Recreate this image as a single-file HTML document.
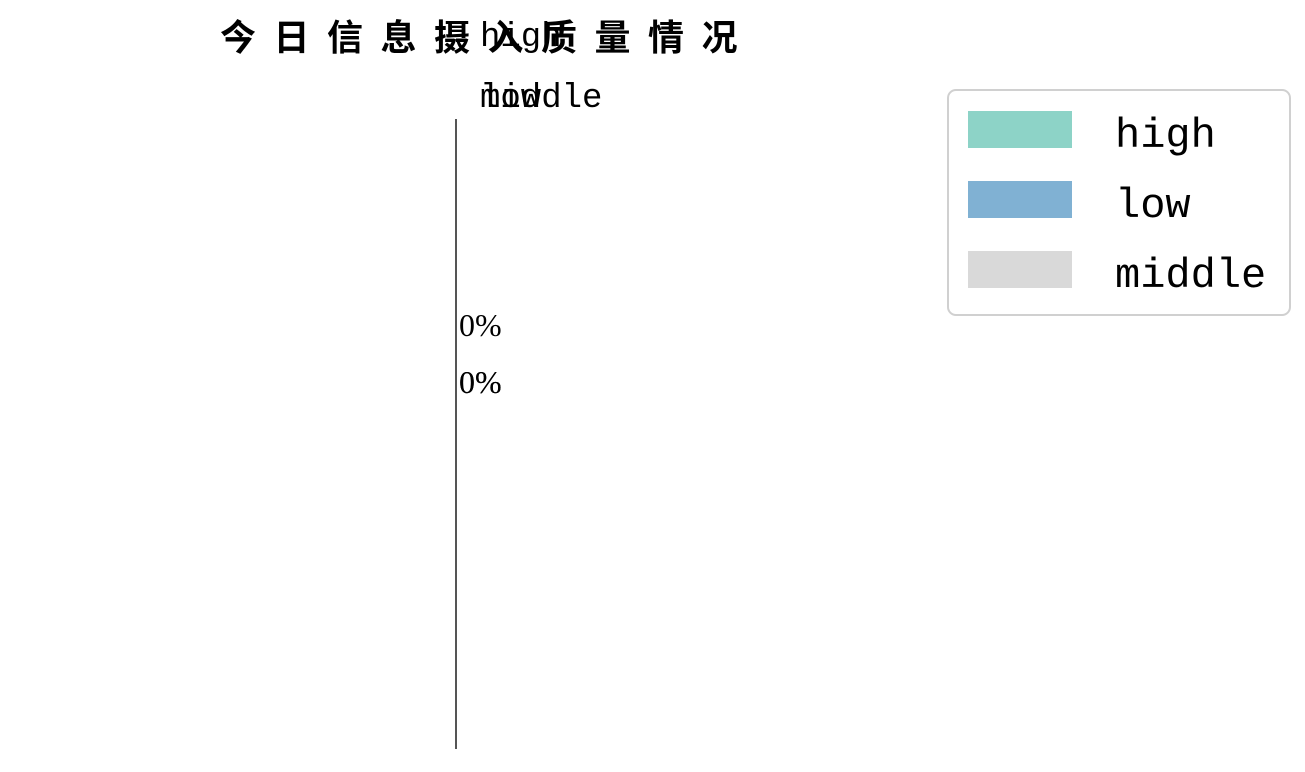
<!DOCTYPE html>
<html><head><meta charset="utf-8"><style>
html,body{margin:0;padding:0;background:#fff;}
svg{display:block;}
</style></head><body>
<svg id="chart" width="1305" height="772" viewBox="0 0 1305 772" xmlns="http://www.w3.org/2000/svg">
<text x="220" y="50" font-family="'Liberation Sans','Noto Sans CJK SC',sans-serif" font-weight="bold" font-size="36" letter-spacing="17.5">今日信息摄入质量情况</text>
<g id="slices"></g>
<g id="labels"></g>
<g>
<rect x="948" y="90" width="342" height="225" rx="8" fill="#fff" stroke="#d0d0d0" stroke-width="2"/>
<g id="legend-entries"></g>
</g>
</svg>
<script>
const categories = ["high", "low", "middle"];
const values = [0, 0, 0];
const colors = ["#8dd3c7", "#80b1d3", "#d9d9d9"];
const pctLabels = ["0%", "0%", "0%"];

const NS = "http://www.w3.org/2000/svg";
const cx = 456, cy = 434, r = 315;
const slices = document.getElementById("slices");
const labels = document.getElementById("labels");
const total = values.reduce((a, b) => a + b, 0);
let start = 0;
function pt(a, rad) { return [cx + rad * Math.sin(a), cy - rad * Math.cos(a)]; }
values.forEach((v, i) => {
  const frac = total > 0 ? v / total : 0;
  const a0 = start * 2 * Math.PI, a1 = (start + frac) * 2 * Math.PI;
  let el;
  if (frac <= 0) {
    el = document.createElementNS(NS, "line");
    const p = pt(a0, r);
    el.setAttribute("x1", cx); el.setAttribute("y1", cy);
    el.setAttribute("x2", p[0]); el.setAttribute("y2", p[1]);
    el.setAttribute("stroke", "#555"); el.setAttribute("stroke-width", "2");
  } else if (frac >= 1) {
    el = document.createElementNS(NS, "circle");
    el.setAttribute("cx", cx); el.setAttribute("cy", cy); el.setAttribute("r", r);
    el.setAttribute("fill", colors[i]);
  } else {
    el = document.createElementNS(NS, "path");
    const p0 = pt(a0, r), p1 = pt(a1, r);
    el.setAttribute("d", `M${cx},${cy}L${p0[0]},${p0[1]}A${r},${r} 0 ${frac > 0.5 ? 1 : 0} 1 ${p1[0]},${p1[1]}Z`);
    el.setAttribute("fill", colors[i]);
    el.setAttribute("stroke", "#555");
  }
  
  
  slices.appendChild(el);
  start += frac;
});
if (total === 0) {
  const ln = document.createElementNS(NS, "line");
  ln.setAttribute("x1", cx); ln.setAttribute("y1", cy - r);
  ln.setAttribute("x2", cx); ln.setAttribute("y2", cy + r);
  ln.setAttribute("stroke", "#555"); ln.setAttribute("stroke-width", "2");
  
  
  slices.appendChild(ln);
}
const catY = [46, 107, 107];
const pctY = [336, 393, 393];
categories.forEach((c, i) => {
  const t = document.createElementNS(NS, "text");
  t.setAttribute("x", 480); t.setAttribute("y", catY[i]);
  t.setAttribute("font-family", "'Liberation Mono',monospace");
  t.setAttribute("font-size", "34");
  t.textContent = c;
  
  
  labels.appendChild(t);
  const p = document.createElementNS(NS, "text");
  p.setAttribute("x", 459); p.setAttribute("y", pctY[i]);
  p.setAttribute("font-family", "'Liberation Serif',serif");
  p.setAttribute("font-size", "32");
  p.textContent = pctLabels[i];
  
  
  labels.appendChild(p);
});
const lg = document.getElementById("legend-entries");
categories.forEach((c, i) => {
  const g = document.createElementNS(NS, "g");
  
  
  const y = 111 + i * 70;
  const rc = document.createElementNS(NS, "rect");
  rc.setAttribute("x", 968); rc.setAttribute("y", y);
  rc.setAttribute("width", 104); rc.setAttribute("height", 37);
  rc.setAttribute("fill", colors[i]);
  
  
  const t = document.createElementNS(NS, "text");
  t.setAttribute("x", 1115); t.setAttribute("y", y + 36);
  t.setAttribute("font-family", "'Liberation Mono',monospace");
  t.setAttribute("font-size", "42");
  t.textContent = c;
  
  
  g.appendChild(rc); g.appendChild(t);
  lg.appendChild(g);
});
</script>
</body></html>
